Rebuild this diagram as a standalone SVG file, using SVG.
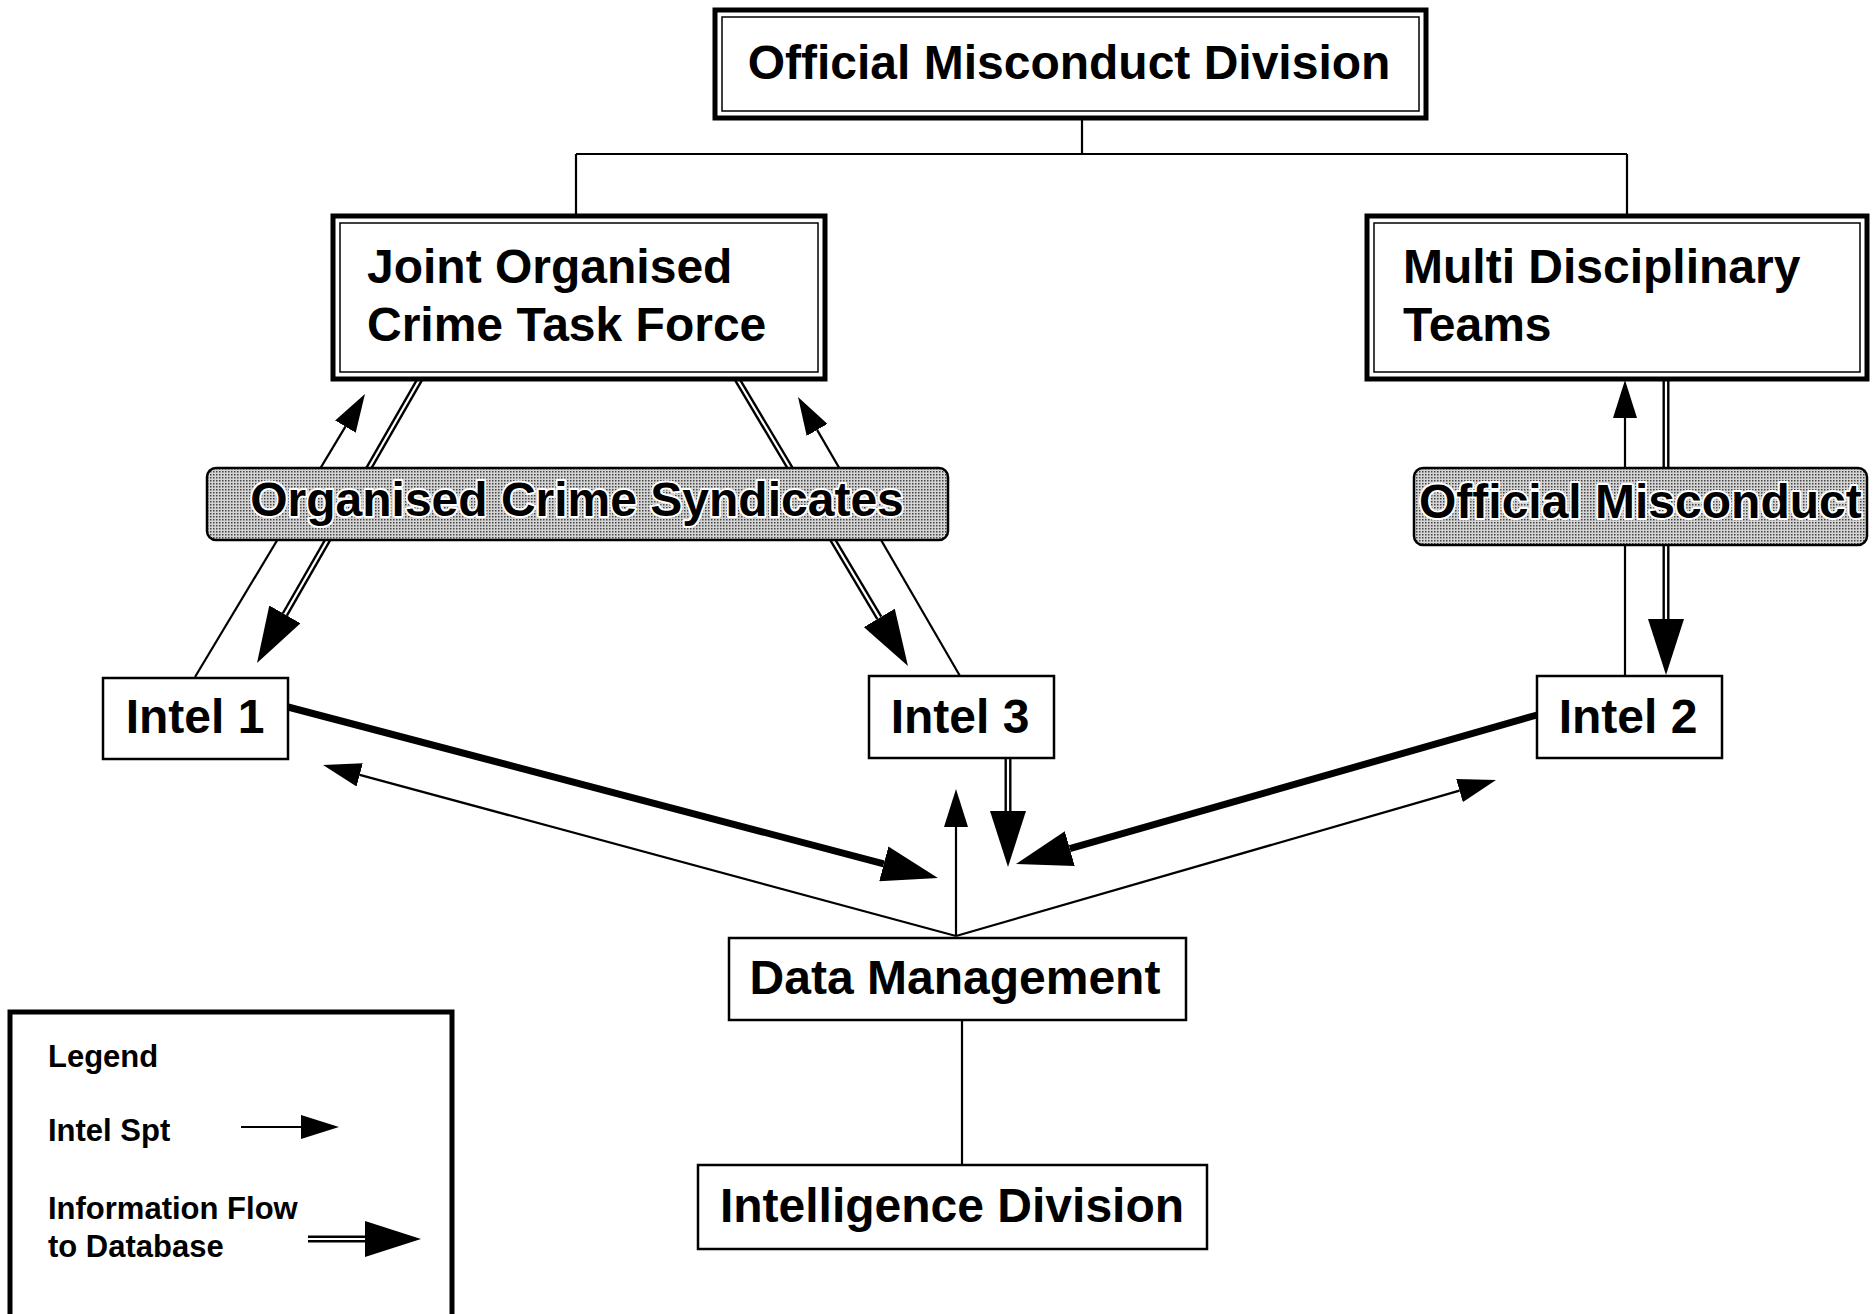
<svg xmlns="http://www.w3.org/2000/svg" width="1874" height="1314" viewBox="0 0 1874 1314">
<style>
text{font-family:"Liberation Sans",Arial,sans-serif;font-weight:bold;fill:#000}
.big{font-size:48px}
.leg{font-size:31px}
.halo{stroke:#fff;stroke-width:4;paint-order:stroke;stroke-linejoin:round}
.outer{fill:#fff;stroke:#000;stroke-width:5}
.inner{fill:none;stroke:#000;stroke-width:1.5}
.plain{fill:#fff;stroke:#000;stroke-width:2.5}
.shade{fill:url(#dots);stroke:#000;stroke-width:2.5}
.thin{fill:none;stroke:#000;stroke-width:2.2}
.thick{fill:none;stroke:#000;stroke-width:7}
.dbl{fill:none;stroke:#000;stroke-width:7}
.gap{fill:none;stroke:#fff;stroke-width:2.2}
</style>
<defs>
<pattern id="dots" width="3" height="3" patternUnits="userSpaceOnUse">
<rect width="3" height="3" fill="#d4d4d4"/>
<rect width="1.5" height="1.5" fill="#444"/>
</pattern>
<marker id="ah" markerUnits="userSpaceOnUse" markerWidth="38" markerHeight="24" refX="0" refY="12" orient="auto">
<path d="M0,0 L38,12 L0,24 Z" fill="#000"/>
</marker>
<marker id="bh" markerUnits="userSpaceOnUse" markerWidth="56" markerHeight="36" refX="0" refY="18" orient="auto">
<path d="M0,0 L56,18 L0,36 Z" fill="#000"/>
</marker>
</defs>
<rect width="1874" height="1314" fill="#fff"/>

<g id="connectors">
<path class="thin" d="M1082,118 V154 M576,154 H1627 M576,154 V216 M1627,154 V216"/>
<line class="thin" x1="962" y1="1020" x2="962" y2="1165"/>
<!-- JOCTF / Intel 1 -->
<line class="thin" x1="195" y1="677" x2="345.4" y2="426.6" marker-end="url(#ah)"/>
<line class="dbl" x1="420" y1="379" x2="284.9" y2="614.4" marker-end="url(#bh)"/>
<line class="gap" x1="420" y1="379" x2="284.9" y2="614.4"/>
<!-- JOCTF / Intel 3 -->
<line class="dbl" x1="737" y1="379" x2="879.3" y2="617.9" marker-end="url(#bh)"/>
<line class="gap" x1="737" y1="379" x2="879.3" y2="617.9"/>
<line class="thin" x1="960" y1="676" x2="817.1" y2="429.9" marker-end="url(#ah)"/>
<!-- MDT / Intel 2 -->
<line class="thin" x1="1625" y1="676" x2="1625" y2="418" marker-end="url(#ah)"/>
<line class="dbl" x1="1666" y1="379" x2="1666" y2="619" marker-end="url(#bh)"/>
<line class="gap" x1="1666" y1="379" x2="1666" y2="619"/>
<!-- to Data Management -->
<line class="thick" x1="288" y1="707" x2="883.8" y2="863.8" marker-end="url(#bh)"/>
<line class="thin" x1="956" y1="936" x2="359.7" y2="774.9" marker-end="url(#ah)"/>
<line class="thin" x1="956" y1="936" x2="956" y2="827" marker-end="url(#ah)"/>
<line class="dbl" x1="1008" y1="758" x2="1008" y2="811" marker-end="url(#bh)"/>
<line class="gap" x1="1008" y1="758" x2="1008" y2="811"/>
<line class="thick" x1="1537" y1="715" x2="1069.8" y2="848.6" marker-end="url(#bh)"/>
<line class="thin" x1="956" y1="936" x2="1459.5" y2="790.6" marker-end="url(#ah)"/>
</g>

<g id="official-misconduct-division">
<rect class="outer" x="715" y="10" width="711" height="108"/>
<rect class="inner" x="722" y="17" width="697" height="94"/>
<text class="big" x="1069" y="79" text-anchor="middle">Official Misconduct Division</text>
</g>

<g id="joctf">
<rect class="outer" x="333" y="216" width="492" height="163"/>
<rect class="inner" x="340" y="223" width="478" height="149"/>
<text class="big" x="367" y="283">Joint Organised</text>
<text class="big" x="367" y="341">Crime Task Force</text>
</g>

<g id="mdt">
<rect class="outer" x="1367" y="216" width="500" height="163"/>
<rect class="inner" x="1374" y="223" width="486" height="149"/>
<text class="big" x="1403" y="283">Multi Disciplinary</text>
<text class="big" x="1403" y="341">Teams</text>
</g>

<g id="organised-crime-syndicates">
<rect class="shade" x="207" y="468" width="741" height="72" rx="9"/>
<text class="big halo" x="577" y="516" text-anchor="middle">Organised Crime Syndicates</text>
</g>

<g id="official-misconduct">
<rect class="shade" x="1414" y="468" width="453" height="77" rx="9"/>
<text class="big halo" x="1419" y="518">Official Misconduct</text>
</g>

<g id="intel1">
<rect class="plain" x="103" y="678" width="185" height="81"/>
<text class="big" x="195" y="733" text-anchor="middle">Intel 1</text>
</g>

<g id="intel3">
<rect class="plain" x="869" y="676" width="185" height="82"/>
<text class="big" x="960" y="733" text-anchor="middle">Intel 3</text>
</g>

<g id="intel2">
<rect class="plain" x="1537" y="676" width="185" height="82"/>
<text class="big" x="1628" y="733" text-anchor="middle">Intel 2</text>
</g>

<g id="data-management">
<rect class="plain" x="729" y="938" width="457" height="82"/>
<text class="big" x="955" y="994" text-anchor="middle">Data Management</text>
</g>

<g id="intelligence-division">
<rect class="plain" x="698" y="1165" width="509" height="84"/>
<text class="big" x="952" y="1222" text-anchor="middle">Intelligence Division</text>
</g>

<g id="legend">
<rect class="outer" x="10" y="1012" width="442" height="310"/>
<text class="leg" x="48" y="1067">Legend</text>
<text class="leg" x="48" y="1141">Intel Spt</text>
<text class="leg" x="48" y="1219">Information Flow</text>
<text class="leg" x="48" y="1257">to Database</text>
<line class="thin" x1="241" y1="1127" x2="301" y2="1127" marker-end="url(#ah)"/>
<line class="dbl" x1="308" y1="1239" x2="365" y2="1239" marker-end="url(#bh)"/>
<line class="gap" x1="308" y1="1239" x2="365" y2="1239"/>
</g>
</svg>
